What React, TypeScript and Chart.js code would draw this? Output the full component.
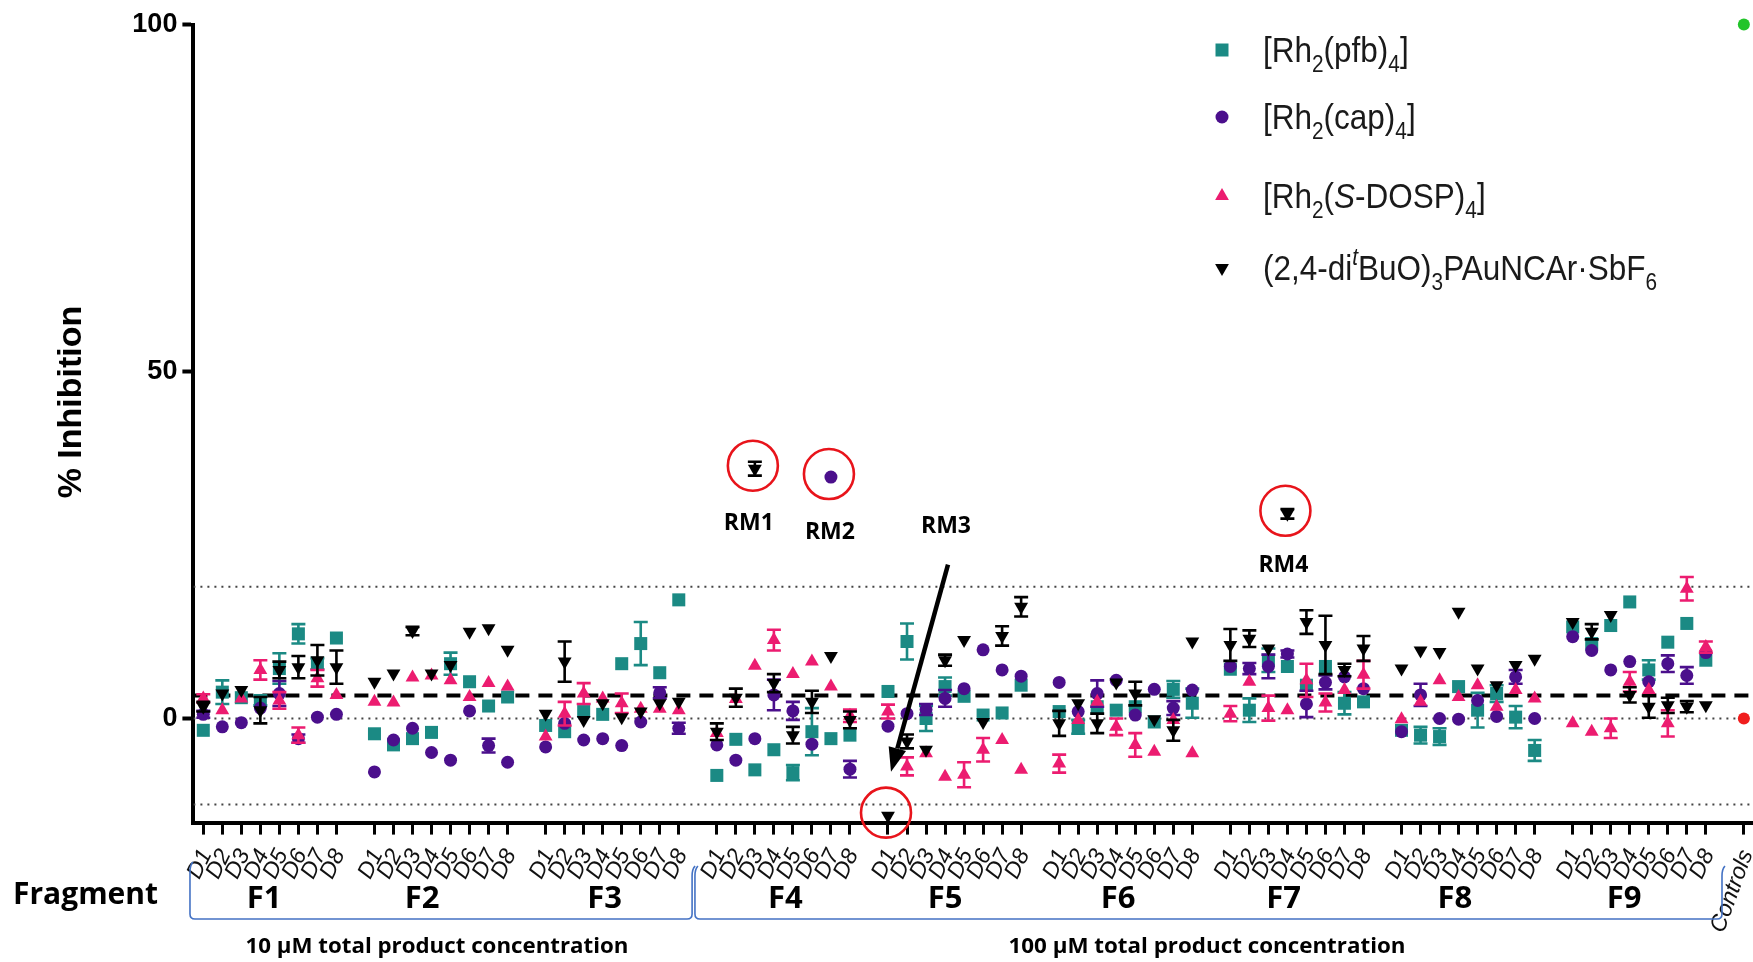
import React, { useEffect, useRef } from 'react';
import { Chart, registerables } from 'chart.js';
Chart.register(...registerables);

// ---------------- data ----------------
const fragments = ['F1', 'F2', 'F3', 'F4', 'F5', 'F6', 'F7', 'F8', 'F9'];
const doses = ['D1', 'D2', 'D3', 'D4', 'D5', 'D6', 'D7', 'D8'];
const controlLabel = 'Controls';

const rhPfb = [
  -1.7, 3.8, 3.0, 2.6, 7.2, 12.2, 7.9, 11.6,
  -2.2, -3.8, -2.9, -2.0, 7.9, 5.3, 1.8, 3.1,
  -1.0, -1.9, 1.0, 0.6, 7.9, 10.8, 6.6, 17.1,
  -8.2, -3.0, -7.4, -4.5, -7.8, -1.9, -2.9, -2.4,
  3.9, 11.1, 0.0, 4.6, 3.2, 0.5, 0.8, 4.8,
  1.0, -1.2, 1.7, 1.2, 1.7, -0.5, 4.2, 2.2,
  7.1, 1.2, 8.4, 7.5, 4.8, 7.5, 2.2, 2.4,
  -1.7, -2.4, -2.6, 4.6, 1.2, 3.6, 0.2, -4.6,
  13.2, 10.8, 13.4, 16.8, 7.0, 11.0, 13.7, 8.4,
];
const rhPfbErr = [
  0, 1.7, 0, 0.7, 2.2, 1.4, 0.8, 0,
  0, 0, 0, 0, 1.6, 0, 0, 0,
  0, 0, 0, 0, 0, 3.1, 0, 0,
  0, 0, 0, 0, 1.1, 3.4, 0, 0,
  0, 2.6, 1.8, 1.3, 0, 0, 0, 0,
  0, 1.0, 0, 0, 0, 0, 1.2, 2.1,
  0, 1.7, 1.7, 0, 0, 0, 1.6, 0,
  0, 1.2, 1.2, 0, 2.5, 1.2, 1.6, 1.5,
  0, 0, 0, 0, 1.4, 0, 0, 0,
];
const rhCap = [
  0.6, -1.2, -0.6, 1.5, 3.6, -2.9, 0.2, 0.6,
  -7.7, -3.1, -1.4, -4.9, -6.0, 1.1, -3.9, -6.3,
  -4.1, -0.7, -3.1, -2.9, -3.9, -0.5, 3.7, -1.4,
  -3.8, -6.0, -2.9, 3.4, 1.1, -3.7, 34.8, -7.3,
  -1.1, 0.7, 1.3, 2.9, 4.3, 9.9, 7.0, 6.1,
  5.2, 1.0, 3.6, 5.5, 0.5, 4.2, 1.5, 4.1,
  7.5, 7.2, 7.5, 9.3, 2.1, 5.2, 6.0, 4.3,
  -1.9, 3.4, 0.0, -0.1, 2.6, 0.3, 6.0, 0.0,
  11.8, 9.8, 7.0, 8.2, 5.3, 7.9, 6.2, 9.5,
];
const rhCapErr = [
  0.5, 0, 0, 0, 1.8, 0.6, 0, 0,
  0, 0, 0, 0, 0, 0, 1.0, 0,
  0, 0, 0, 0, 0, 0, 0.8, 0.8,
  0, 0, 0, 2.2, 1.3, 0, 0, 1.2,
  0, 0, 0.8, 1.2, 0, 0, 0, 0,
  0, 0, 1.9, 0, 0, 0, 1.0, 0,
  0, 0.8, 1.7, 0.5, 1.9, 1.0, 0, 0,
  0, 1.6, 0, 0, 0, 0, 1.0, 0,
  0, 0, 0, 0, 0, 1.2, 1.2, 0,
];
const rhDosp = [
  2.9, 1.2, 2.9, 7.0, 2.6, -2.4, 5.8, 3.4,
  2.4, 2.3, 5.9, 6.2, 5.5, 3.1, 5.1, 4.6,
  -2.6, 0.7, 3.6, 2.9, 2.2, 1.4, 1.4, 1.2,
  -2.1, 2.8, 7.6, 11.3, 6.4, 8.2, 4.6, 0.4,
  1.0, -6.9, -5.0, -8.4, -8.1, -4.5, -3.1, -7.4,
  -6.5, -0.2, 2.4, -1.2, -3.8, -4.8, -0.2, -5.0,
  0.7, 5.3, 1.5, 1.2, 5.5, 2.3, 4.1, 6.3,
  -0.1, 2.4, 5.5, 3.1, 4.8, 1.7, 4.1, 2.9,
  -0.7, -1.9, -1.4, 5.3, 4.1, -0.7, 18.7, 10.3,
];
const rhDospErr = [
  0.6, 0, 0, 1.4, 1.2, 1.1, 1.2, 0,
  0, 0, 0, 0, 0, 0, 0, 0,
  0, 1.7, 1.5, 0, 1.4, 0, 0, 0,
  0, 0, 0, 1.5, 0, 0, 0, 0.9,
  1.0, 1.3, 0, 0, 1.8, 1.7, 0, 0,
  1.3, 0, 0, 1.2, 1.7, 0, 0, 0,
  1.1, 0, 1.8, 0, 2.4, 1.3, 0, 2.0,
  0, 0, 0, 0, 0, 0, 0, 0,
  0, 0, 1.4, 1.4, 0, 1.9, 1.7, 0.8,
];
const goldCat = [
  1.7, 3.6, 4.1, 1.2, 7.0, 7.4, 8.4, 7.4,
  5.3, 6.5, 12.6, 6.5, 7.7, 12.5, 13.0, 9.9,
  0.7, 8.2, -0.2, 2.2, 0.2, 1.0, 2.2, 2.4,
  -1.9, 3.0, 36.0, 5.1, -2.4, 2.4, 9.0, -0.2,
  -14.0, -3.3, -4.5, 8.4, 11.3, -0.5, 11.9, 16.1,
  -0.7, 2.2, -0.7, 5.2, 3.6, -0.1, -1.7, 11.1,
  10.6, 11.5, 10.1, 29.5, 13.9, 10.6, 7.0, 10.1,
  7.2, 9.8, 9.6, 15.4, 7.2, 4.8, 7.7, 8.6,
  13.9, 12.5, 14.9, 3.4, 1.7, 1.9, 1.7, 1.9,
];
const goldErr = [
  0.7, 0, 0, 1.9, 1.2, 1.6, 2.2, 2.4,
  0, 0, 0.6, 0, 0, 0, 0, 0,
  0, 2.9, 0, 0, 0, 0, 0, 0,
  1.2, 1.3, 1.0, 1.3, 1.2, 1.6, 0, 1.2,
  0, 1.0, 0, 0.8, 0, 0, 1.4, 1.4,
  1.8, 0, 1.4, 0, 1.7, 0, 1.5, 0,
  2.3, 1.2, 0, 0.7, 1.7, 4.2, 0.9, 1.8,
  0, 0, 0, 0, 0, 0, 0, 0,
  0, 1.1, 0, 1.1, 1.6, 1.1, 0.8, 0,
];

const positiveControl = 100;
const negativeControl = 0;
const meanLine = 3.3;
const upperLimit = 19.0;
const lowerLimit = -12.4;
const zeroLine = 0;

const yTicks = [0, 50, 100];
const concLabels = ['10 µM total product concentration', '100 µM total product concentration'];
const rmLabels = ['RM1', 'RM2', 'RM3', 'RM4'];

// ---------------- layout / style ----------------
const W = 1753;
const H = 962;
const SLOT = 9; // 8 doses + 1 gap per fragment
const CONTROL_X = fragments.length * SLOT; // 81
const X_MIN = -0.52;
const X_MAX = 81.48;

const COL_PFB = '#1b8a84';
const COL_CAP = '#4b0f8c';
const COL_DOSP = '#ec1c70';
const COL_GOLD = '#000000';
const COL_RED = '#e8141b';
const COL_BLUE = '#4472c4';

const xOf = (i: number) => Math.floor(i / doses.length) * SLOT + (i % doses.length);
const toPoints = (arr: number[]) => arr.map((v, i) => ({ x: xOf(i), y: v }));

const tickValues: number[] = [];
fragments.forEach((_, g) => doses.forEach((__, d) => tickValues.push(g * SLOT + d)));
tickValues.push(CONTROL_X);
const tickLabel = (v: number) => (v === CONTROL_X ? controlLabel : doses[Math.round(v) % SLOT] ?? '');

type Part = { t: string; sub?: boolean; sup?: boolean; it?: boolean };
const legendItems: { style: string; color: string; parts: Part[] }[] = [
  { style: 'rect', color: COL_PFB, parts: [{ t: '[Rh' }, { t: '2', sub: true }, { t: '(pfb)' }, { t: '4', sub: true }, { t: ']' }] },
  { style: 'circle', color: COL_CAP, parts: [{ t: '[Rh' }, { t: '2', sub: true }, { t: '(cap)' }, { t: '4', sub: true }, { t: ']' }] },
  { style: 'tri', color: COL_DOSP, parts: [{ t: '[Rh' }, { t: '2', sub: true }, { t: '(' }, { t: 'S', it: true }, { t: '-DOSP)' }, { t: '4', sub: true }, { t: ']' }] },
  { style: 'itri', color: COL_GOLD, parts: [{ t: '(2,4-di' }, { t: 't', sup: true, it: true }, { t: 'BuO)' }, { t: '3', sub: true }, { t: 'PAuNCAr·SbF' }, { t: '6', sub: true }] },
];

// RM annotations: series / index / label offsets
const rmMarks = [
  { series: goldCat, idx: 26, dx: -6, dy: 55 },
  { series: rhCap, idx: 30, dx: -1, dy: 55 },
  { series: goldCat, idx: 32, dx: 58, dy: -289 },
  { series: goldCat, idx: 51, dx: -4, dy: 52 },
];
const fragLabelShift = [-0.3, -1.0, -0.4, 0.1, -0.5, -0.4, -0.7, -0.7, -0.8];

function drawMarker(ctx: CanvasRenderingContext2D, style: string, color: string, x: number, y: number) {
  ctx.fillStyle = color;
  ctx.beginPath();
  if (style === 'rect') {
    ctx.rect(x - 6.5, y - 6.5, 13, 13);
  } else if (style === 'circle') {
    ctx.arc(x, y, 6.5, 0, Math.PI * 2);
  } else if (style === 'tri') {
    ctx.moveTo(x, y - 8);
    ctx.lineTo(x + 6.9, y + 4);
    ctx.lineTo(x - 6.9, y + 4);
  } else {
    ctx.moveTo(x, y + 8);
    ctx.lineTo(x + 6.9, y - 4);
    ctx.lineTo(x - 6.9, y - 4);
  }
  ctx.closePath();
  ctx.fill();
}

function drawRich(ctx: CanvasRenderingContext2D, parts: Part[], x: number, y: number, size: number, sx: number) {
  ctx.save();
  ctx.translate(x, y);
  ctx.scale(sx, 1);
  ctx.textBaseline = 'alphabetic';
  ctx.textAlign = 'left';
  let cx = 0;
  for (const p of parts) {
    const s = p.sub || p.sup ? size * 0.66 : size;
    ctx.font = `${p.it ? 'italic ' : ''}${s}px "Liberation Sans", Arial, sans-serif`;
    const dy = p.sub ? size * 0.28 : p.sup ? -size * 0.42 : 0;
    ctx.fillText(p.t, cx, dy);
    cx += ctx.measureText(p.t).width;
  }
  ctx.restore();
}

function fillTextFit(ctx: CanvasRenderingContext2D, text: string, cx: number, cy: number, width: number) {
  const m = ctx.measureText(text).width;
  ctx.save();
  ctx.translate(cx, cy);
  ctx.scale(width / m, 1);
  ctx.textAlign = 'center';
  ctx.textBaseline = 'middle';
  ctx.fillText(text, 0, 0);
  ctx.restore();
}

const errorBarPlugin = {
  id: 'errorBars',
  beforeDatasetDraw(chart: any, args: any) {
    const ds = chart.data.datasets[args.index];
    const errs: number[] | undefined = ds.errorBars;
    if (!errs) return;
    const { ctx } = chart;
    const y = chart.scales.y;
    const meta = chart.getDatasetMeta(args.index);
    ctx.save();
    ctx.strokeStyle = ds.backgroundColor;
    ctx.lineWidth = 2.6;
    meta.data.forEach((el: any, i: number) => {
      const e = errs[i];
      if (!e) return;
      const v = ds.data[i].y;
      const yt = y.getPixelForValue(v + e);
      const yb = y.getPixelForValue(v - e);
      const px = el.x;
      ctx.beginPath();
      ctx.moveTo(px, yt);
      ctx.lineTo(px, yb);
      ctx.moveTo(px - 7, yt);
      ctx.lineTo(px + 7, yt);
      ctx.moveTo(px - 7, yb);
      ctx.lineTo(px + 7, yb);
      ctx.stroke();
    });
    ctx.restore();
  },
};

const annotationPlugin = {
  id: 'annotations',
  afterDraw(chart: any) {
    const { ctx } = chart;
    const xs = chart.scales.x;
    const ys = chart.scales.y;
    ctx.save();
    ctx.fillStyle = '#000';

    // x tick labels (rotated, italic)
    ctx.fillStyle = '#111';
    tickValues.forEach((v) => {
      const px = xs.getPixelForValue(v);
      const isCtrl = v === CONTROL_X;
      ctx.save();
      ctx.translate(px + 3, 851);
      ctx.rotate(-(isCtrl ? 70 : 64) * Math.PI / 180);
      ctx.font = 'italic 23px "Liberation Sans", Arial, sans-serif';
      ctx.textAlign = 'right';
      ctx.textBaseline = 'middle';
      ctx.fillText(tickLabel(v), 0, 0);
      ctx.restore();
    });
    ctx.fillStyle = '#000';

    // y title
    ctx.save();
    ctx.translate(72, 402);
    ctx.rotate(-Math.PI / 2);
    ctx.font = 'bold 34px "Liberation Sans", Arial, sans-serif';
    ctx.textAlign = 'center';
    ctx.textBaseline = 'middle';
    ctx.fillText('% Inhibition', 0, 0);
    ctx.restore();

    // "Fragment"
    ctx.font = 'bold 30px "Open Sans", sans-serif';
    ctx.textAlign = 'left';
    ctx.textBaseline = 'middle';
    ctx.fillText('Fragment', 13, 895);

    // fragment labels
    ctx.textAlign = 'center';
    ctx.font = 'bold 31px "Open Sans", sans-serif';
    fragments.forEach((f, g) => {
      const cx = xs.getPixelForValue(g * SLOT + 3.5 + fragLabelShift[g]);
      ctx.fillText(f, cx, 899);
    });

    // brackets
    ctx.strokeStyle = COL_BLUE;
    ctx.lineWidth = 1.6;
    const bracket = (x1: number, x2: number, yb: number, yt1: number, yt2: number) => {
      ctx.beginPath();
      ctx.moveTo(x1 + 3, yt1);
      ctx.quadraticCurveTo(x1, yt1 + 3, x1, yt1 + 10);
      ctx.lineTo(x1, yb - 5);
      ctx.quadraticCurveTo(x1, yb, x1 + 5, yb);
      ctx.lineTo(x2 - 5, yb);
      ctx.quadraticCurveTo(x2, yb, x2, yb - 5);
      ctx.lineTo(x2, yt2 + 10);
      ctx.quadraticCurveTo(x2, yt2 + 3, x2 + 3, yt2);
      ctx.stroke();
    };
    bracket(xs.getPixelForValue(-0.7), xs.getPixelForValue(25.7), 919, 862, 866);
    bracket(xs.getPixelForValue(25.85), xs.getPixelForValue(79.85), 919, 866, 866);

    // concentration labels
    ctx.fillStyle = '#000';
    ctx.font = 'bold 22px "Open Sans", sans-serif';
    fillTextFit(ctx, concLabels[0], 437, 947, 383);
    fillTextFit(ctx, concLabels[1], 1207, 947, 397);

    // RM annotations
    rmMarks.forEach((m, k) => {
      const px = xs.getPixelForValue(xOf(m.idx));
      const py = ys.getPixelForValue(m.series[m.idx]);
      ctx.strokeStyle = COL_RED;
      ctx.lineWidth = 2.6;
      ctx.beginPath();
      ctx.arc(px - 2, py - 3, 25, 0, Math.PI * 2);
      ctx.stroke();
      ctx.fillStyle = '#000';
      ctx.font = 'bold 23px "Open Sans", sans-serif';
      ctx.textAlign = 'center';
      ctx.textBaseline = 'middle';
      ctx.fillText(rmLabels[k], px + m.dx, py + m.dy);
      if (k === 2) {
        // arrow to RM3
        const sx = px + 60, sy = py - 251;
        const tx = px + 3, ty = py - 44;
        const ang = Math.atan2(ty - sy, tx - sx);
        const hl = 24, hw = 9;
        const bx = tx - hl * Math.cos(ang), by = ty - hl * Math.sin(ang);
        ctx.strokeStyle = '#000';
        ctx.lineWidth = 4.5;
        ctx.beginPath();
        ctx.moveTo(sx, sy);
        ctx.lineTo(bx, by);
        ctx.stroke();
        ctx.beginPath();
        ctx.moveTo(tx, ty);
        ctx.lineTo(bx + hw * Math.sin(ang), by - hw * Math.cos(ang));
        ctx.lineTo(bx - hw * Math.sin(ang), by + hw * Math.cos(ang));
        ctx.closePath();
        ctx.fill();
      }
    });

    // legend
    const rowsY = [50, 117, 196, 268];
    legendItems.forEach((it, k) => {
      drawMarker(ctx, it.style, it.color, 1222, rowsY[k]);
      ctx.fillStyle = '#1a1a1a';
      drawRich(ctx, it.parts, 1263, rowsY[k] + 12, 35, 0.9);
    });
    ctx.restore();
  },
};

export default function App() {
  const canvasRef = useRef<HTMLCanvasElement | null>(null);

  useEffect(() => {
    if (!canvasRef.current) return;
    const series = (label: string, data: number[], errs: number[], color: string, style: any, radius: number, rotation: number, order: number) => ({
      label,
      data: toPoints(data),
      errorBars: errs,
      backgroundColor: color,
      borderColor: color,
      borderWidth: 0,
      pointStyle: style,
      pointRadius: radius,
      pointRotation: rotation,
      showLine: false,
      clip: false,
      order,
    });
    const refLine = (label: string, v: number, color: string, dash: number[], width: number) => ({
      label,
      data: [{ x: X_MIN, y: v }, { x: X_MAX, y: v }],
      showLine: true,
      borderColor: color,
      borderWidth: width,
      borderDash: dash,
      pointRadius: 0,
      order: 10,
    });

    const chart = new Chart(canvasRef.current, {
      type: 'scatter',
      data: {
        datasets: [
          refLine('upper', upperLimit, '#444', [2, 5], 2),
          refLine('zero', zeroLine, '#444', [2, 5], 2),
          refLine('lower', lowerLimit, '#444', [2, 5], 2),
          refLine('mean', meanLine, '#000', [14, 9], 4),
          series('[Rh2(pfb)4]', rhPfb, rhPfbErr, COL_PFB, 'rect', 9.2, 0, 4),
          series('[Rh2(cap)4]', rhCap, rhCapErr, COL_CAP, 'circle', 6.5, 0, 3),
          series('[Rh2(S-DOSP)4]', rhDosp, rhDospErr, COL_DOSP, 'triangle', 8, 0, 2),
          series('(2,4-ditBuO)3PAuNCAr·SbF6', goldCat, goldErr, COL_GOLD, 'triangle', 8, 180, 1),
          {
            label: 'positive control',
            data: [{ x: CONTROL_X, y: positiveControl }],
            backgroundColor: '#22c42a',
            borderWidth: 0,
            pointRadius: 6,
            clip: false,
            order: 0,
          } as any,
          {
            label: 'negative control',
            data: [{ x: CONTROL_X, y: negativeControl }],
            backgroundColor: '#f01e1e',
            borderWidth: 0,
            pointRadius: 6,
            clip: false,
            order: 0,
          } as any,
        ] as any,
      },
      options: {
        animation: false,
        responsive: false,
        maintainAspectRatio: false,
        layout: { autoPadding: false, padding: { top: 24.6, left: 0, right: 0, bottom: 0 } },
        plugins: { legend: { display: false }, tooltip: { enabled: false } },
        scales: {
          x: {
            type: 'linear',
            min: X_MIN,
            max: X_MAX,
            afterBuildTicks: (scale: any) => {
              scale.ticks = tickValues.map((v) => ({ value: v }));
            },
            afterFit: (scale: any) => {
              scale.height = 139.4;
              scale.paddingLeft = 0;
              scale.paddingRight = 0;
            },
            ticks: {
              display: false,
              autoSkip: false,
              callback: (v: any) => tickLabel(v),
            },
            grid: { display: true, drawOnChartArea: false, drawTicks: true, tickLength: 12, tickWidth: 3, tickColor: '#000' },
            border: { display: true, width: 4, color: '#000' },
          },
          y: {
            type: 'linear',
            min: -15,
            max: 100,
            afterBuildTicks: (scale: any) => {
              scale.ticks = yTicks.map((v) => ({ value: v }));
            },
            afterFit: (scale: any) => {
              scale.width = 193.4;
              scale.paddingTop = 0;
              scale.paddingBottom = 0;
            },
            ticks: {
              padding: 5,
              color: '#000',
              font: { family: '"Liberation Sans", Arial, sans-serif', size: 27, weight: 'bold' },
              callback: (v: any) => String(v),
            },
            grid: { display: true, drawOnChartArea: false, drawTicks: true, tickLength: 11, tickWidth: 4, tickColor: '#000' },
            border: { display: true, width: 4, color: '#000' },
          },
        },
      } as any,
      plugins: [errorBarPlugin, annotationPlugin],
    });
    return () => chart.destroy();
  }, []);

  return (
    <div style={{ position: 'fixed', left: 0, top: 0, width: W, height: H, background: '#fff' }}>
      <canvas ref={canvasRef} width={W} height={H} style={{ width: W, height: H, display: 'block' }} />
    </div>
  );
}
